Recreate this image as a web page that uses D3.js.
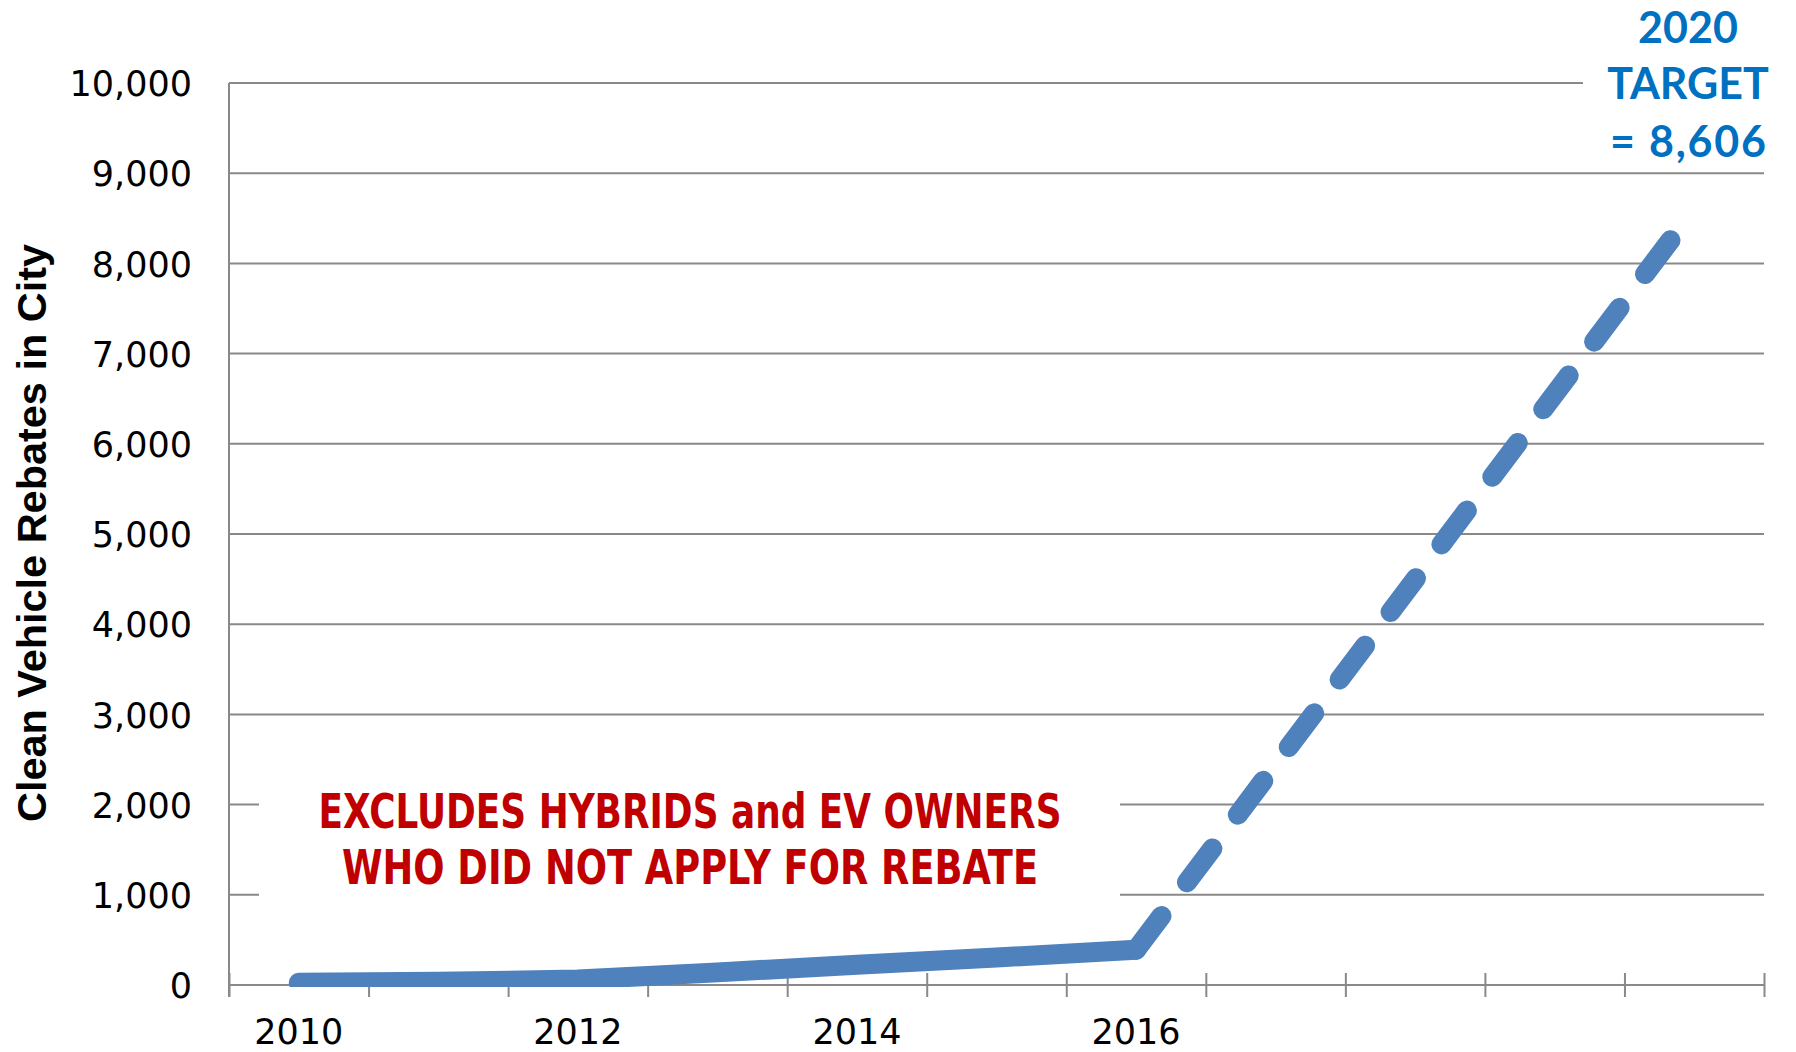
<!DOCTYPE html>
<html>
<head>
<meta charset="utf-8">
<script src="https://cdn.jsdelivr.net/npm/d3@7"></script>
<style>
html, body { margin: 0; padding: 0; background: #ffffff; }
svg { display: block; }
</style>
</head>
<body>
<svg id="chart" width="1796" height="1052"></svg>
<script>
// ---------------- DATA ----------------
const years = [2010, 2011, 2012, 2013, 2014, 2015, 2016, 2017, 2018, 2019, 2020];
const xTickLabels = ["2010", "", "2012", "", "2014", "", "2016", "", "", "", ""];
const actualYears = [2010, 2011, 2012, 2013, 2014, 2015, 2016];
const actualValues = [25, 35, 60, 140, 225, 305, 390];
const targetYears = [2016, 2020];
const targetValues = [390, 8606];
const yTicks = [0, 1000, 2000, 3000, 4000, 5000, 6000, 7000, 8000, 9000, 10000];
const yTitle = "Clean Vehicle Rebates in City";
const noteLines = ["EXCLUDES HYBRIDS and EV OWNERS", "WHO DID NOT APPLY FOR REBATE"];
const targetLines = ["2020", "TARGET", "= 8,606"];

// ---------------- LAYOUT ----------------
const L = 229, R = 1764, T = 83, B = 985;
const svg = d3.select("#chart");

const x = d3.scaleBand().domain(years).range([L, R]).padding(0);
const xc = d => x(d) + x.bandwidth() / 2;
const y = d3.scaleLinear().domain([0, 10000]).range([B, T]);
const xb = d3.scaleLinear().domain([0, years.length]).range([L, R]);

const gridColor = "#898989";

// gridlines
svg.append("g").selectAll("line").data(yTicks).join("line")
  .attr("x1", L).attr("x2", R)
  .attr("y1", d => y(d)).attr("y2", d => y(d))
  .attr("stroke", gridColor).attr("stroke-width", 2);

// y axis line
svg.append("line").attr("x1", L).attr("x2", L).attr("y1", T).attr("y2", B + 12)
  .attr("stroke", gridColor).attr("stroke-width", 2);

// y axis labels
const yAxis = d3.axisLeft(y).tickValues(yTicks).tickSize(0).tickPadding(37)
  .tickFormat(d3.format(","));
const gy = svg.append("g").attr("transform", `translate(${L},0)`).call(yAxis);
gy.select(".domain").remove();
gy.selectAll("text").attr("font-family", "DejaVu Sans").attr("font-size", 35)
  .attr("fill", "#000").attr("dy", "0.36em");

// x boundary ticks (cross style)
const xTickAxis = d3.axisBottom(xb).tickValues(d3.range(0, years.length + 1))
  .tickSize(12).tickFormat("");
const gxt = svg.append("g").attr("transform", `translate(0,${B})`).call(xTickAxis);
gxt.select(".domain").remove();
gxt.selectAll(".tick line").attr("y1", -12).attr("y2", 12)
  .attr("stroke", gridColor).attr("stroke-width", 2);

// x labels
const xAxis = d3.axisBottom(x).tickSize(0).tickPadding(34)
  .tickFormat((d, i) => xTickLabels[i]);
const gx = svg.append("g").attr("transform", `translate(0,${B})`).call(xAxis);
gx.select(".domain").remove();
gx.selectAll("text").attr("font-family", "DejaVu Sans").attr("font-size", 35)
  .attr("fill", "#000").attr("dy", "0.71em");

// white text boxes (interrupt gridlines)
svg.append("rect").attr("x", 259).attr("y", 768).attr("width", 861).attr("height", 130).attr("fill", "#fff");
svg.append("rect").attr("x", 1583).attr("y", 0).attr("width", 213).attr("height", 165).attr("fill", "#fff");

// clip
svg.append("clipPath").attr("id", "plotclip").append("rect")
  .attr("x", L).attr("y", T - 40).attr("width", R - L).attr("height", B + 2 - (T - 40));

const lineColor = "#4F81BD";
const line = d3.line().x(d => xc(d[0])).y(d => y(d[1]));
const plot = svg.append("g").attr("clip-path", "url(#plotclip)");

plot.append("path").datum(actualYears.map((d, i) => [d, actualValues[i]]))
  .attr("d", line).attr("fill", "none").attr("stroke", lineColor)
  .attr("stroke-width", 20).attr("stroke-linecap", "round").attr("stroke-linejoin", "round");

plot.append("path").datum(targetYears.map((d, i) => [d, targetValues[i]]))
  .attr("d", line).attr("fill", "none").attr("stroke", lineColor)
  .attr("stroke-width", 20).attr("stroke-linecap", "round")
  .attr("stroke-dasharray", "42.3,42.3");

// y axis title
svg.append("text")
  .attr("transform", `translate(46,533) rotate(-90)`)
  .attr("text-anchor", "middle")
  .attr("font-family", "Liberation Sans, Arial, sans-serif")
  .attr("font-weight", "bold").attr("font-size", 41).attr("fill", "#000")
  .attr("textLength", 578).attr("lengthAdjust", "spacingAndGlyphs")
  .text(yTitle);

// red note
const noteBase = [828, 884];
const noteWidths = [743, 696];
svg.append("g").selectAll("text").data(noteLines).join("text")
  .attr("x", 690).attr("y", (d, i) => noteBase[i])
  .attr("text-anchor", "middle")
  .attr("font-family", "Liberation Sans Narrow, DejaVu Sans Condensed, sans-serif")
  .attr("font-weight", "bold").attr("font-size", 48).attr("fill", "#C00000")
  .attr("textLength", (d, i) => noteWidths[i]).attr("lengthAdjust", "spacingAndGlyphs")
  .text(d => d);

// target label
const targetBase = [43, 99, 157];
const tl = svg.append("g").selectAll("text").data(targetLines).join("text")
  .attr("x", 1688).attr("y", (d, i) => targetBase[i])
  .attr("text-anchor", "middle")
  .attr("font-family", "Lato, sans-serif")
  .attr("font-weight", "bold").attr("font-size", 43).attr("fill", "#0070C0")
  .text(d => d);
tl.filter((d, i) => i === 2).attr("textLength", 156).attr("lengthAdjust", "spacing");
</script>
</body>
</html>
